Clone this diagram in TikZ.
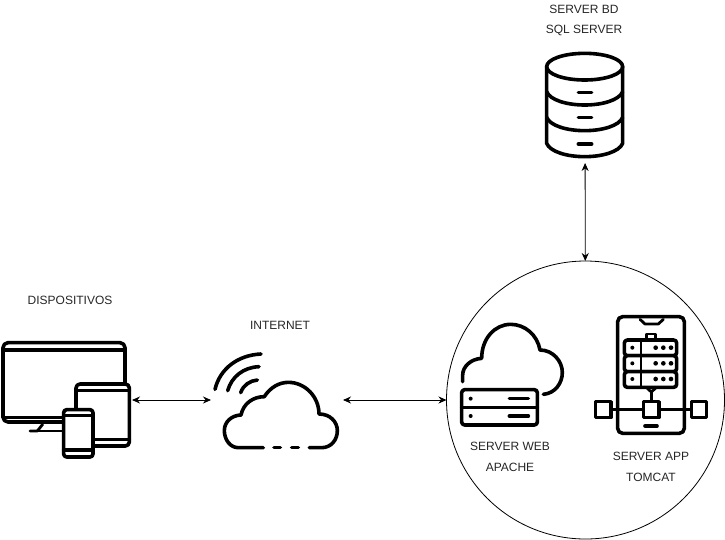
\documentclass[tikz,border=0pt]{standalone}
\usepackage{fontspec}
\setmainfont{Liberation Sans}
\usetikzlibrary{arrows.meta, positioning}

\begin{document}
\begin{tikzpicture}[
    x=1pt, y=-1pt,
    label/.style={font=\fontsize{12}{20.5}\selectfont, align=center, inner sep=0pt, text=black!85},
    slot/.style={inner sep=0pt, outer sep=0pt},
    icon/.style={line width=3.6pt, line cap=round, line join=round},
    thin icon/.style={line width=2.8pt, line cap=round, line join=round},
    arrow/.style={{Stealth[length=8pt, width=7pt]}-{Stealth[length=8pt, width=7pt]}, line width=0.8pt},
]
\useasboundingbox (0,0) rectangle (725,539);

% anchors for the connectors
\node[slot, minimum width=132pt, minimum height=118pt] (dispositivos) at (66,400) {};
\node[slot, minimum width=132pt, minimum height=100pt] (internet) at (277,400) {};
\node[slot, minimum width=90pt, minimum height=113pt] (serverbd) at (585,106.5) {};
\node[slot, circle, draw, line width=0.8pt, minimum size=278pt] (cluster) at (585.5,400) {};

% labels
\node[label] (labelbd) at (584,20.5) {SERVER BD\\SQL SERVER};
\node[label] (labeldisp) at (70,300.5) {DISPOSITIVOS};
\node[label] (labelnet) at (280,325) {INTERNET};
\node[label] (labelweb) at (510,457) {SERVER WEB\\APACHE};
\node[label] (labelapp) at (651,467) {SERVER APP\\TOMCAT};

% devices
\begin{scope}[shift={(0,330)}, scale=1/3]
\draw[icon, rounded corners=5pt] (9,38) rectangle (375,276);
\draw[icon] (9,60) -- (375,60);
\draw[icon] (9,262) -- (190,262);
\draw[thin icon] (90,303) -- (112,303) -- (128,283);
\draw[thin icon] (112,303) -- (190,303);
\draw[icon, fill=white, rounded corners=4pt] (228,162) rectangle (388,348);
\draw[icon] (228,182) -- (388,182);
\draw[icon] (228,328) -- (388,328);
\draw[icon, fill=white, rounded corners=3pt] (191,239) rectangle (279,381);
\draw[icon] (191,256) -- (279,256);
\draw[icon] (191,360) -- (279,360);
\end{scope}

% internet cloud
\begin{scope}[shift={(205,340)}, scale=1/3]
\draw[icon] (175,323) -- (100,323) .. controls (75,323) and (58,298) .. (58,272)
    .. controls (58,245) and (80,226) .. (108,225)
    .. controls (115,190) and (145,170) .. (178,170)
    .. controls (195,143) and (222,127) .. (250,127)
    .. controls (300,127) and (342,170) .. (342,222)
    .. controls (375,222) and (397,245) .. (397,272)
    .. controls (397,300) and (378,323) .. (350,323) -- (313,323);
\draw[icon] (207,323) -- (226,323);
\draw[icon] (260,323) -- (280,323);
\draw[icon] (30,148) .. controls (45,85) and (100,45) .. (168,42);
\draw[icon] (68,152) .. controls (80,110) and (115,82) .. (162,80);
\draw[icon] (107,158) .. controls (115,135) and (135,122) .. (157,120);
\end{scope}

% server web
\begin{scope}[shift={(450,315)}, scale=1/3]
\draw[icon] (38,200) -- (38,180) .. controls (38,155) and (62,132) .. (95,130)
    .. controls (95,70) and (135,28) .. (182,28)
    .. controls (225,28) and (262,60) .. (270,105)
    .. controls (310,105) and (337,140) .. (337,172)
    .. controls (337,205) and (315,235) .. (280,238);
\draw[icon, rounded corners=3pt] (35,224) rectangle (262,330);
\draw[icon] (35,278) -- (262,278);
\draw[icon] (178,251) -- (235,251);
\draw[icon] (178,303) -- (235,303);
\fill (62,251) circle (6);
\fill (62,303) circle (6);
\end{scope}

% server app
\begin{scope}[shift={(585,310)}, scale=1/3]
\draw[icon, rounded corners=5pt] (98,20) rectangle (298,370);
\draw[thin icon] (165,28) -- (180,42) -- (220,42) -- (235,28);
\draw[icon] (180,348) -- (216,348);
\draw[thin icon, fill=white] (184,88) -- (184,72) -- (212,72) -- (212,88);
\draw[thin icon] (186,234) -- (199,246) -- (212,234);
\draw[thin icon] (199,246) -- (199,275);
\draw[icon, fill=white, rounded corners=3pt] (118,90) rectangle (275,137);
\draw[icon, fill=white, rounded corners=3pt] (118,137) rectangle (275,185);
\draw[icon, fill=white, rounded corners=3pt] (118,185) rectangle (275,232);
\draw[thin icon] (168,90) -- (168,232);
\foreach \y in {113,160,207} {
    \fill (142,\y) circle (6);
    \foreach \x in {212,235,258}
        \fill (\x,\y) circle (7);
}
\draw[thin icon] (80,298) -- (318,298);
\draw[icon, fill=white] (32,275) rectangle (78,322);
\draw[icon, fill=white] (176,275) rectangle (222,322);
\draw[icon, fill=white] (319,275) rectangle (365,322);
\end{scope}

% server bd
\begin{scope}[shift={(530,0)}, scale=1/3]
\draw[icon] (164,200) ellipse (114 and 40);
\draw[icon] (50,200) -- (50,430) .. controls (60,455) and (110,470) .. (164,470)
    .. controls (218,470) and (268,455) .. (278,430) -- (278,200);
\draw[icon] (50,275) .. controls (60,300) and (110,315) .. (164,315)
    .. controls (218,315) and (268,300) .. (278,275);
\draw[icon] (50,352) .. controls (60,377) and (110,392) .. (164,392)
    .. controls (218,392) and (268,377) .. (278,352);
\draw[icon] (145,277) -- (185,277);
\draw[icon] (145,352) -- (185,352);
\draw[icon] (145,432) -- (185,432);
\end{scope}

\draw[arrow] (dispositivos) -- (internet);
\draw[arrow] (internet) -- (cluster);
\draw[arrow] (cluster) -- (serverbd);

\end{tikzpicture}
\end{document}
